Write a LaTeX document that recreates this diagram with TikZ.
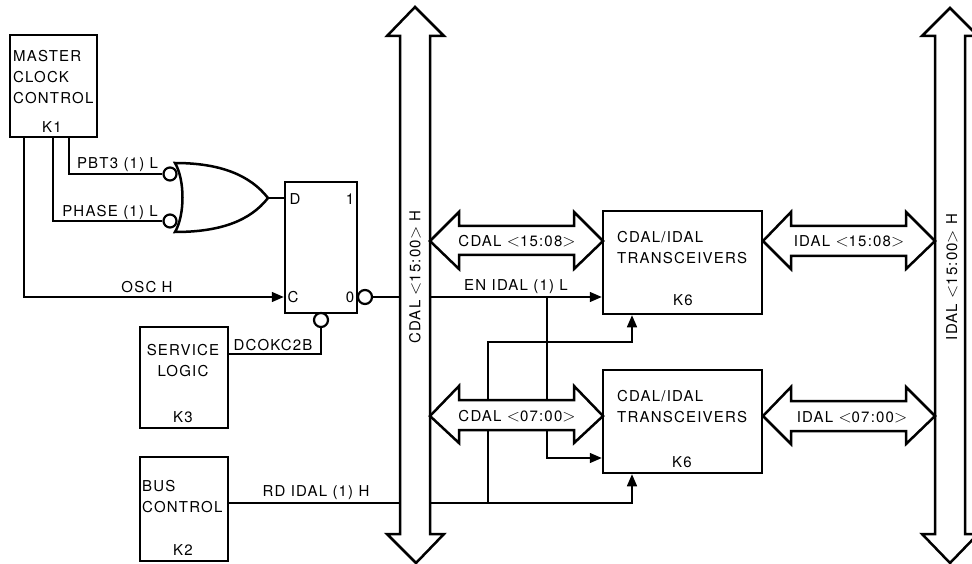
\documentclass[tikz,border=0pt]{standalone}
\usepackage{fontspec}
\setmainfont[LetterSpace=8]{TeX Gyre Heros}
\usetikzlibrary{calc,arrows.meta}

\newcommand{\ltb}{{\fontsize{18}{18}\selectfont$<$}}
\newcommand{\gtb}{{\fontsize{18}{18}\selectfont$>$}}

\tikzset{
  block/.style={draw, line width=2.5pt, fill=white, inner sep=0pt},
  wire/.style={line width=1.5pt},
  arrowwire/.style={wire, -{Triangle[length=12pt,width=10pt]}},
  bubble/.style={circle, draw, line width=2.2pt, fill=white, inner sep=0pt, minimum size=13pt},
  bus/.style={draw, line width=2.5pt, fill=white, line join=miter},
  lbl/.style={inner sep=0pt, font=\fontsize{15}{21}\selectfont},
  boxlbl/.style={lbl, anchor=west, align=left},
}

\begin{document}
\begin{tikzpicture}[x=1pt,y=-1pt]
  \clip (0,0) rectangle (972,564);
  \fill[white] (0,0) rectangle (972,564);

  %--- Blocks ---
  \node[block, minimum width=87pt, minimum height=102pt] (k1) at (53.5,86) {};
  \node[block, minimum width=72pt, minimum height=131pt] (ff) at (321,247.5) {};
  \node[block, minimum width=88pt, minimum height=101pt] (k3) at (184,377.5) {};
  \node[block, minimum width=88pt, minimum height=104pt] (k2) at (184,509) {};
  \node[block, minimum width=159pt, minimum height=103pt] (k6a) at (682.5,262.5) {};
  \node[block, minimum width=159pt, minimum height=103pt] (k6b) at (682.5,421.5) {};

  %--- Gate and inversion bubbles ---
  \draw[line width=2.5pt] (175,163) .. controls (220,163) and (250,175) .. (268,198)
    .. controls (250,221) and (220,232) .. (175,232)
    .. controls (185,215) and (185,180) .. (175,163) -- cycle;
  \coordinate (orout) at (268,198);
  \node[bubble] (pbtin) at (170,174) {};
  \node[bubble] (phasein) at (170,221) {};
  \node[bubble, minimum size=14pt] (ffout) at (365,297) {};
  \node[bubble, minimum size=14pt] (ffclr) at (321,320) {};

  %--- Bus end points ---
  \coordinate (cdalleft) at (400,297);
  \coordinate (cdalright) at (430,297);
  \coordinate (rdleft) at (400,503);
  \coordinate (rdright) at (430,503);

  %--- Wires ---
  \draw[wire] (k1.south -| 69,0) |- (pbtin);
  \draw[wire] (k1.south -| 53,0) |- (phasein);
  \draw[arrowwire] (k1.south -| 24,0) |- (ff.west |- 0,297);
  \draw[wire] (orout) -- (ff.west |- orout);
  \draw[wire] (ffout) -- (cdalleft);
  \draw[wire] (k3.east |- 0,354) -| (ffclr);
  \draw[wire] (k2.east |- rdleft) -- (rdleft);

  % EN IDAL runs past the first block down to the second
  \draw[arrowwire] (cdalright) -- (k6a.west |- cdalright);
  \draw[arrowwire] (547,297) |- (k6b.west |- 0,458);

  % RD IDAL feeds both blocks from below
  \draw[arrowwire] (rdright) -| (k6b.south -| 632,0);
  \draw[arrowwire] (488,503) |- (632,342) -- (k6a.south -| 632,0);

  %--- Vertical buses ---
  \draw[bus] (415,7) -- (444,36) -- (430,36) -- (430,534) -- (444,534) -- (416,563)
    -- (387,534) -- (400,534) -- (400,36) -- (387,36) -- cycle;
  \draw[bus] (950,8) -- (978,36) -- (965,36) -- (965,534) -- (978,534) -- (950,563)
    -- (922,534) -- (935,534) -- (935,36) -- (922,36) -- cycle;

  %--- Horizontal buses ---
  \draw[bus] (430,241) -- (459,212) -- (459,226) -- (574,226) -- (574,212) -- (603,241)
    -- (574,269) -- (574,255) -- (459,255) -- (459,269) -- cycle;
  \draw[bus] (430,416) -- (459,386) -- (459,400) -- (574,400) -- (574,386) -- (603,416)
    -- (574,443) -- (574,430) -- (459,430) -- (459,443) -- cycle;
  \draw[bus] (763,241) -- (791,212) -- (791,226) -- (906,226) -- (906,212) -- (935,241)
    -- (906,269) -- (906,256) -- (791,256) -- (791,269) -- cycle;
  \draw[bus] (763,416) -- (791,387) -- (791,401) -- (906,401) -- (906,387) -- (935,416)
    -- (906,444) -- (906,431) -- (791,431) -- (791,444) -- cycle;

  %--- Block labels ---
  \node[boxlbl] (k1txt) at (13,77) {MASTER\\CLOCK\\CONTROL};
  \node[lbl] (k1num) at (52,127) {K1};
  \node[lbl] (ffd) at (295,199) {D};
  \node[lbl] (ffq) at (350,199) {1};
  \node[lbl] (ffc) at (293,297) {C};
  \node[lbl] (ffqn) at (350,297) {0};
  \node[lbl, align=center] (k3txt) at (183,361) {SERVICE\\LOGIC};
  \node[lbl] (k3num) at (183,417) {K3};
  \node[boxlbl] (k2txt) at (142,497) {BUS\\CONTROL};
  \node[lbl] (k2num) at (183,550) {K2};
  \node[boxlbl] (k6atxt) at (617,248) {CDAL/IDAL\\TRANSCEIVERS};
  \node[lbl] (k6anum) at (683,300) {K6};
  \node[boxlbl] (k6btxt) at (617,407) {CDAL/IDAL\\TRANSCEIVERS};
  \node[lbl] (k6bnum) at (682,462) {K6};

  %--- Signal labels ---
  \node[lbl] (pbtlbl) at (117.5,165) {PBT3 (1) L};
  \node[lbl] (phaselbl) at (110,212) {PHASE (1) L};
  \node[lbl] (osclbl) at (147,287) {OSC H};
  \node[lbl] (dcoklbl) at (273,345) {DCOKC2B};
  \node[lbl] (rdlbl) at (316,493) {RD IDAL (1) H};
  \node[lbl] (enlbl) at (516,287) {EN IDAL (1) L};

  %--- Bus labels ---
  \node[lbl, rotate=90] (cdallbl) at (415,277) {CDAL \ltb15:00\gtb{} H};
  \node[lbl, rotate=90] (idallbl) at (952,277) {IDAL \ltb15:00\gtb{} H};
  \node[lbl] (cdalhi) at (517,241) {CDAL \ltb15:08\gtb};
  \node[lbl] (cdallo) at (517,416) {CDAL \ltb07:00\gtb};
  \node[lbl] (idalhi) at (849,241) {IDAL \ltb15:08\gtb};
  \node[lbl] (idallo) at (852,417) {IDAL \ltb07:00\gtb};

\end{tikzpicture}
\end{document}
